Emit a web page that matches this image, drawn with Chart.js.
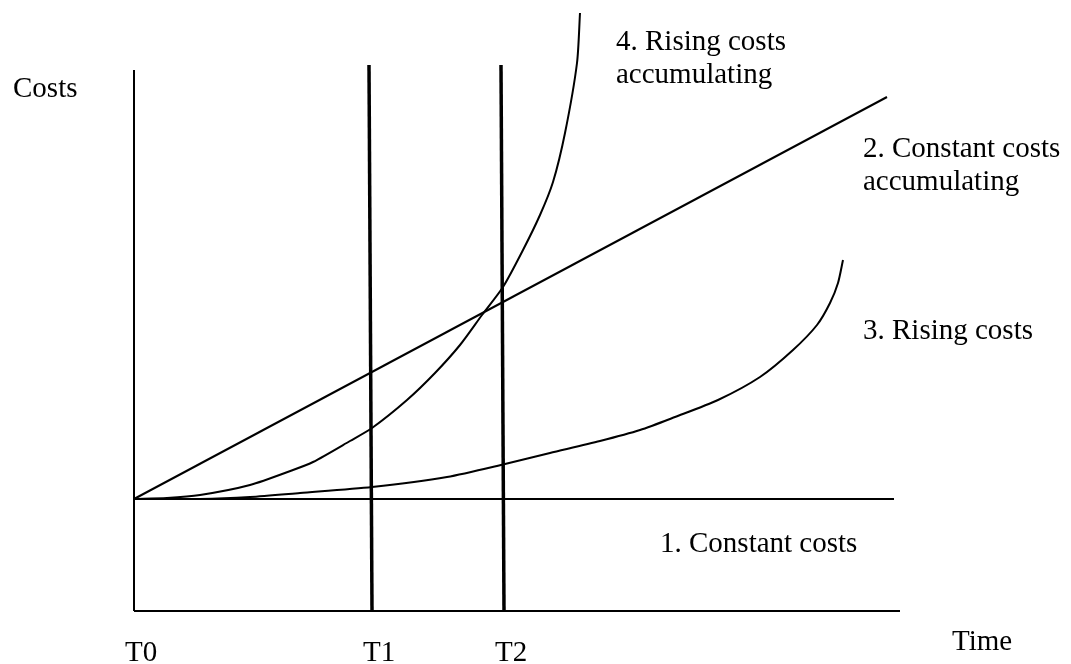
<!DOCTYPE html>
<html>
<head>
<meta charset="utf-8">
<script src="https://cdn.jsdelivr.net/npm/chart.js@4"></script>
<style>
  html, body { margin: 0; padding: 0; background: #fff; }
  #wrap { width: 1071px; height: 664px; position: relative; }
</style>
</head>
<body>
<div id="wrap"><canvas id="chart"></canvas></div>
<script>
// time runs 0..77, costs 0..60 (arbitrary units)
const baseCost = 11.2;
const axisTop = 54.1;
const axisEnd = 76.6;
const constantEnd = 76.0;

// vertical markers T0, T1, T2
const markLabels = ['T0', 'T1', 'T2'];
const markTimes = [0, 23.8, 37.0];
const markTopTimes = [0, 23.5, 36.7];
const markTop = 54.6;

// 2. constant costs accumulating (straight line)
const time2 = [0, 75.3];
const cost2 = [11.2, 51.4];

// 3. rising costs
const time3 = [0, 6.6, 11.6, 16.6, 23.8, 31.3, 37.1, 41.6, 46.6, 50.6, 54.1, 58.4, 62.6, 65.9, 68.3, 69.6, 70.4, 70.9];
const cost3 = [11.2, 11.2, 11.4, 11.8, 12.4, 13.4, 14.7, 15.8, 17.0, 18.1, 19.4, 21.1, 23.4, 26.1, 28.6, 30.8, 32.8, 35.1];

// 4. rising costs accumulating
const time4 = [0, 3.3, 6.6, 11.6, 15.9, 17.9, 21.6, 23.8, 27.3, 30.1, 32.6, 34.8, 36.9, 38.9, 40.6, 41.9, 43.1, 44.3, 44.6];
const cost4 = [11.2, 11.3, 11.6, 12.6, 14.1, 14.9, 17.0, 18.3, 21.1, 23.8, 26.6, 29.6, 32.4, 36.1, 39.6, 42.9, 47.8, 54.8, 59.8];

const pts = (xs, ys) => xs.map((x, i) => ({ x: x, y: ys[i] }));

const line = (data, width, tension) => ({
  data: data,
  showLine: true,
  borderColor: '#000',
  borderWidth: width,
  pointRadius: 0,
  tension: tension || 0,
  fill: false,
  clip: false,
});

const datasets = [
  line([{ x: 0, y: 0 }, { x: 0, y: axisTop }], 2),           // cost axis
  line([{ x: 0, y: 0 }, { x: axisEnd, y: 0 }], 2),           // time axis
  line([{ x: 0, y: baseCost }, { x: constantEnd, y: baseCost }], 2), // 1. constant costs
  line(pts(time2, cost2), 2),
  line(pts(time3, cost3), 2, 0.25),
  line(pts(time4, cost4), 2, 0.25),
];
markTimes.forEach((t, i) => {
  if (i === 0) return;
  datasets.push(line([{ x: t, y: 0 }, { x: markTopTimes[i], y: markTop }], 3.5));
});

const font = "29px 'Liberation Serif', 'Times New Roman', serif";

// free text placed on the page (left, baseline)
const notes = [
  ['Costs', 13, 97],
  ['4. Rising costs', 616, 50],
  ['accumulating', 616, 83],
  ['2. Constant costs', 863, 157],
  ['accumulating', 863, 190],
  ['3. Rising costs', 863, 339],
  ['1. Constant costs', 660, 552],
  ['Time', 952, 650],
];

const textPlugin = {
  id: 'sketchText',
  afterDraw(chart) {
    const ctx = chart.ctx;
    const xs = chart.scales.x;
    ctx.save();
    ctx.font = font;
    ctx.fillStyle = '#000';
    ctx.textBaseline = 'alphabetic';
    ctx.textAlign = 'left';
    notes.forEach(([txt, x, y]) => ctx.fillText(txt, x, y));
    markLabels.forEach((lab, i) => {
      ctx.fillText(lab, xs.getPixelForValue(markTimes[i]) - 9, 661);
    });
    ctx.restore();
  },
};

new Chart(document.getElementById('chart').getContext('2d'), {
  type: 'scatter',
  data: { datasets: datasets },
  options: {
    responsive: true,
    maintainAspectRatio: false,
    animation: false,
    layout: { padding: { left: 134, right: 167, top: 11, bottom: 53 } },
    plugins: { legend: { display: false }, tooltip: { enabled: false } },
    scales: {
      x: { type: 'linear', min: 0, max: 77, display: false },
      y: { type: 'linear', min: 0, max: 60, display: false },
    },
  },
  plugins: [textPlugin],
});
</script>
</body>
</html>
